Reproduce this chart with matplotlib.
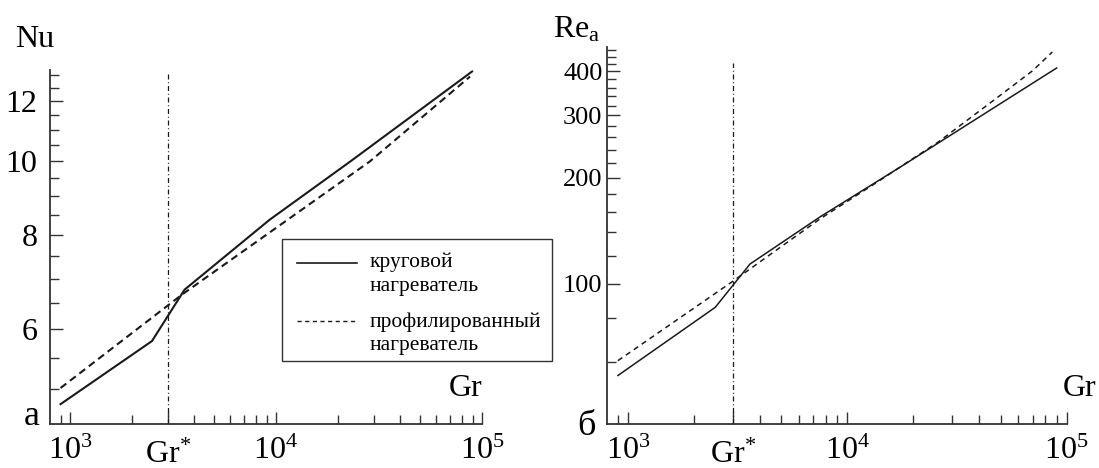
import matplotlib
matplotlib.use("Agg")
import matplotlib.pyplot as plt
from matplotlib.ticker import FixedLocator, FixedFormatter, NullFormatter
from matplotlib.lines import Line2D
from matplotlib.patches import Rectangle

plt.rcParams['font.family'] = ['Liberation Serif', 'DejaVu Serif']
plt.rcParams['mathtext.fontset'] = 'custom'
plt.rcParams['mathtext.rm'] = 'Liberation Serif'
plt.rcParams['mathtext.it'] = 'Liberation Serif:italic'

# ---------------- data ----------------
gr_star = 3000
gr_star_label = r'$\mathrm{Gr}^{*}$'
gr_xlim = (800, 1e5)
x_major = [1e3, 3e3, 1e4, 1e5]
x_major_labels = [r'$10^{3}$', '', r'$10^{4}$', r'$10^{5}$']
x_minor = [900, 2000, 4000, 5000, 6000, 7000, 8000, 9000,
           20000, 30000, 40000, 50000, 60000, 70000, 80000, 90000]

# (a) Nu(Gr)
nu_solid_gr = [900, 2500, 3600, 9300, 23000, 89500]
nu_solid = [4.78, 5.79, 6.77, 8.37, 10.0, 13.14]
nu_dash_gr = [900, 3500, 28600, 87500]
nu_dash = [5.02, 6.67, 10.0, 12.94]
nu_ylim = (4.5, 13.2)
nu_major = [6, 8, 10, 12]
nu_major_labels = ['6', '8', '10', '12']
nu_minor = [5, 5.5, 6.5, 7, 7.5, 8.5, 9, 9.5, 10.5, 11, 11.5, 12.5, 13]
nu_vline_top = 13.08

# (б) Re_a(Gr)
re_solid_gr = [900, 2500, 3600, 7500, 17400, 90000]
re_solid = [54.9, 85.7, 113.7, 154.6, 214, 409]
re_dash_gr = [900, 3000, 7500, 14100, 26000, 46400, 70000, 86000]
re_dash = [60.5, 101.5, 152.6, 196.5, 252.4, 331, 402, 454]
re_ylim = (40, 470)
re_major = [100, 200, 300, 400]
re_major_labels = ['100', '200', '300', '400']
re_minor = [60, 80, 120, 140, 160, 180, 220, 240, 260, 280, 320, 340, 360, 380, 420, 440, 460]
re_vline_top = 422

legend_labels = [['круговой', 'нагреватель'], ['профилированный', 'нагреватель']]

W, H = 1099, 468
fig = plt.figure(figsize=(W / 100, H / 100), dpi=100)
spine_col = '#333333'
line_col = '#1a1a1a'


def px(x0, y0, w, h):
    return [x0 / W, 1 - (y0 + h) / H, w / W, h / H]


ax1 = fig.add_axes(px(50, 70, 432, 354))
ax2 = fig.add_axes(px(606.7, 46.7, 460, 377.3))


def style(ax, ylim, ymaj, ymaj_lab, ymin_, ylab_size, ylab_pad):
    ax.set_xscale('log')
    ax.set_yscale('log')
    ax.set_xlim(*gr_xlim)
    ax.set_ylim(*ylim)
    for s in ['top', 'right']:
        ax.spines[s].set_visible(False)
    for s in ['left', 'bottom']:
        ax.spines[s].set_linewidth(1.3)
        ax.spines[s].set_color(spine_col)
    ax.xaxis.set_major_locator(FixedLocator(x_major))
    ax.xaxis.set_major_formatter(FixedFormatter(x_major_labels))
    ax.xaxis.set_minor_locator(FixedLocator(x_minor))
    ax.xaxis.set_minor_formatter(NullFormatter())
    ax.yaxis.set_major_locator(FixedLocator(ymaj))
    ax.yaxis.set_major_formatter(FixedFormatter(ymaj_lab))
    ax.yaxis.set_minor_locator(FixedLocator(ymin_))
    ax.yaxis.set_minor_formatter(NullFormatter())
    ax.tick_params(which='both', direction='in', color=spine_col, width=1.0)
    ax.tick_params(which='major', length=9)
    ax.tick_params(which='minor', length=6.5)
    ax.tick_params(axis='x', which='major', labelsize=23, pad=9)
    ax.tick_params(axis='y', which='major', labelsize=ylab_size, pad=ylab_pad)
    # Gr* label, placed a little lower than the decade labels as in the original
    hpx = ax.get_position().height * H
    ax.text(gr_star, -39 / hpx, gr_star_label, transform=ax.get_xaxis_transform(),
            ha='center', va='baseline', fontsize=23)


style(ax1, nu_ylim, nu_major, nu_major_labels, nu_minor, 23, 9)
style(ax2, re_ylim, re_major, re_major_labels, re_minor, 19, 3)

dashdot = (0, (4, 2.2, 0.8, 2.2))

# panel a
ax1.plot([gr_star, gr_star], [nu_ylim[0], nu_vline_top], color=line_col, lw=0.9, ls=dashdot)
ax1.plot(nu_solid_gr, nu_solid, color=line_col, lw=1.5, solid_joinstyle='miter')
ax1.plot(nu_dash_gr, nu_dash, color=line_col, lw=1.5, ls=(0, (3.5, 2.2)))

# panel b
ax2.plot([gr_star, gr_star], [re_ylim[0], re_vline_top], color=line_col, lw=0.9, ls=dashdot)
ax2.plot(re_solid_gr, re_solid, color=line_col, lw=1.1)
ax2.plot(re_dash_gr, re_dash, color=line_col, lw=1.1, ls=(0, (3.5, 2.8)))

# axis labels
ax1.text(1.0, 0.059, 'Gr', transform=ax1.transAxes, ha='right', va='bottom', fontsize=23)
ax2.text(0.992, 0.056, 'Gr', transform=ax2.transAxes, ha='left', va='bottom', fontsize=23)
fig.text(15 / W, 1 - 47 / H, 'Nu', ha='left', va='baseline', fontsize=23)
fig.text(553 / W, 1 - 37 / H, r'$\mathrm{Re}_{\mathrm{a}}$', ha='left', va='baseline', fontsize=23)
fig.text(24 / W, 1 - 425 / H, 'а', ha='left', va='baseline', fontsize=26)
fig.text(577 / W, 1 - 435 / H, 'б', ha='left', va='baseline', fontsize=26)

# legend (drawn manually to match layout)
fig.add_artist(Rectangle((281.7 / W, 1 - 360.7 / H), 270.3 / W, 121.4 / H,
                         transform=fig.transFigure, fill=False, ec=spine_col, lw=1.0))
fig.add_artist(Line2D([296.7 / W, 356.7 / W], [1 - 263.3 / H] * 2, transform=fig.transFigure,
                      color=line_col, lw=1.2))
fig.add_artist(Line2D([296.7 / W, 356.7 / W], [1 - 320.7 / H] * 2, transform=fig.transFigure,
                      color=line_col, lw=1.0, ls=(0, (3, 2.5))))
baselines = [[266.7, 290.5], [326.7, 350]]
for labs, bls in zip(legend_labels, baselines):
    for lab, b in zip(labs, bls):
        fig.text(370 / W, 1 - b / H, lab, ha='left', va='baseline', fontsize=15.5)

fig.savefig('out.png', dpi=100)
